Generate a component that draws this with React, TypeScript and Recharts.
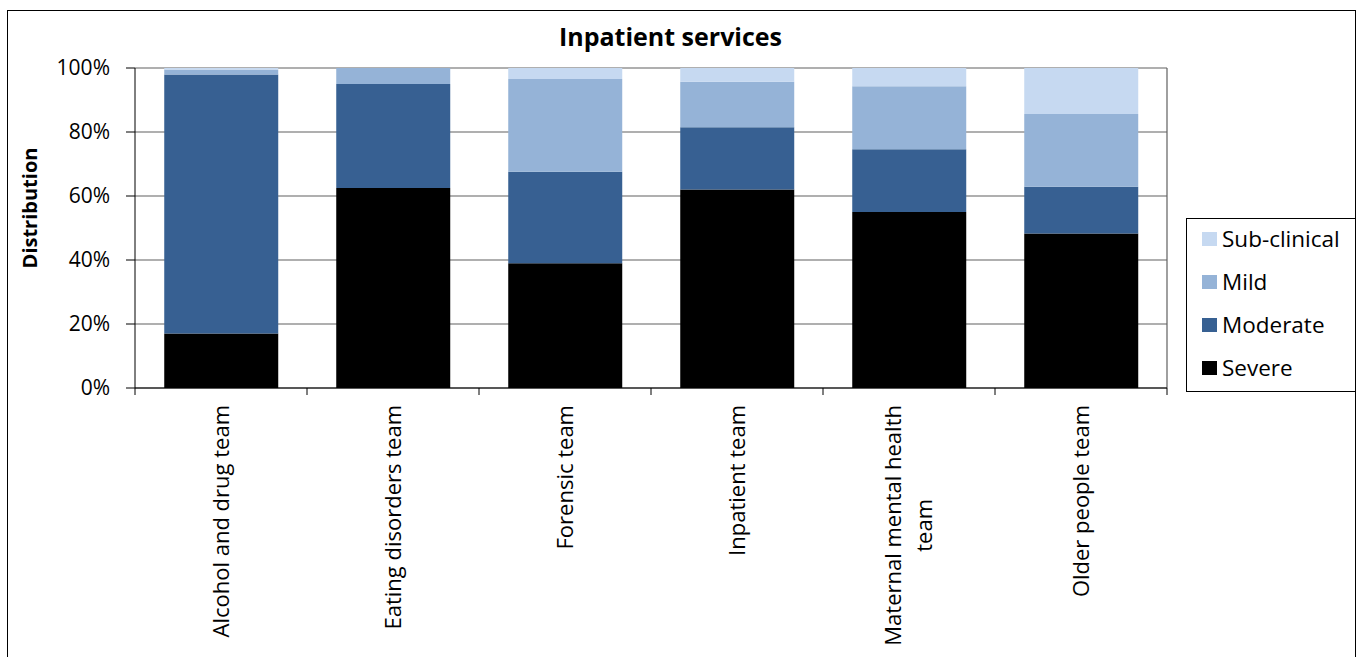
import React from 'react';
import { BarChart, Bar, XAxis, YAxis, CartesianGrid, Legend, Label } from 'recharts';

// ---- data ----
const categories = [
  'Alcohol and drug team',
  'Eating disorders team',
  'Forensic team',
  'Inpatient team',
  'Maternal mental health team',
  'Older people team',
];
const severe = [17, 62.5, 39, 62, 55, 48.3];
const moderate = [81, 32.5, 28.6, 19.5, 19.6, 14.6];
const mild = [1.5, 5, 29, 14.2, 19.7, 22.7];
const subClinical = [0.5, 0, 3.4, 4.3, 5.7, 14.4];
const yTicks = [0, 20, 40, 60, 80, 100];

const seriesDefs = [
  { key: 'severe', name: 'Severe', values: severe, color: '#000000' },
  { key: 'moderate', name: 'Moderate', values: moderate, color: '#376092' },
  { key: 'mild', name: 'Mild', values: mild, color: '#95B3D7' },
  { key: 'subClinical', name: 'Sub-clinical', values: subClinical, color: '#C6D9F1' },
];

const data = categories.map((c, i) => {
  const row: any = { name: c };
  seriesDefs.forEach((s) => (row[s.key] = s.values[i]));
  return row;
});

// ---- layout ----
const W = 1361;
const H = 657;
const FONT = "'Open Sans', 'Liberation Sans', sans-serif";
const LABEL_SIZE = 22;
const LINE_H = 31;
const MAX_LABEL = 262;

let ctx: CanvasRenderingContext2D | null = null;
const measure = (s: string) => {
  if (!ctx) {
    const c = document.createElement('canvas');
    ctx = c.getContext('2d');
  }
  if (!ctx) return s.length * LABEL_SIZE * 0.5;
  ctx.font = `${LABEL_SIZE}px 'Open Sans'`;
  return ctx.measureText(s).width;
};

const wrap = (s: string) => {
  const words = s.split(' ');
  const lines: string[] = [];
  let cur = '';
  words.forEach((w) => {
    const t = cur ? cur + ' ' + w : w;
    if (cur && measure(t) > MAX_LABEL) {
      lines.push(cur);
      cur = w;
    } else cur = t;
  });
  if (cur) lines.push(cur);
  return lines;
};

const XTick = (props: any) => {
  const { x, y, payload, index, width } = props;
  const band = (width || 1032) / categories.length;
  const lines = wrap(String(payload.value));
  const lens = lines.map(measure);
  const maxLen = Math.max(...lens);
  const top = y + 17;
  return (
    <g>
      <line x1={x - band / 2} x2={x - band / 2} y1={y} y2={y + 7} stroke="#000" strokeWidth={1} />
      {index === categories.length - 1 && (
        <line x1={x + band / 2} x2={x + band / 2} y1={y} y2={y + 7} stroke="#000" strokeWidth={1} />
      )}
      {lines.map((ln, i) => {
        const cx = x + (i - (lines.length - 1) / 2) * LINE_H;
        const ty = top + (maxLen - lens[i]) / 2;
        return (
          <text
            key={i}
            x={cx}
            y={ty}
            transform={`rotate(-90 ${cx} ${ty})`}
            textAnchor="end"
            dy="0.36em"
            fontSize={LABEL_SIZE}
            fontFamily={FONT}
            fill="#000"
          >
            {ln}
          </text>
        );
      })}
    </g>
  );
};

const renderLegend = () => (
  <div
    style={{
      border: '1px solid #000',
      width: 170,
      height: 174,
      boxSizing: 'border-box',
      background: '#fff',
      fontFamily: FONT,
      fontSize: 22.5,
      color: '#000',
    }}
  >
    <div style={{ marginTop: -2 }}>
      {[...seriesDefs].reverse().map((s) => (
        <div key={s.key} style={{ height: 43, display: 'flex', alignItems: 'center' }}>
          <span
            style={{
              display: 'inline-block',
              width: 15,
              height: 14,
              background: s.color,
              marginLeft: 15,
              marginRight: 5,
            }}
          />
          <span style={{ lineHeight: '22px' }}>{s.name}</span>
        </div>
      ))}
    </div>
  </div>
);

export default function App() {
  return (
    <div
      style={{
        position: 'absolute',
        left: 0,
        top: 0,
        width: W,
        height: H,
        overflow: 'hidden',
        background: '#fff',
      }}
    >
      <div
        style={{
          position: 'absolute',
          left: 7,
          top: 10,
          width: 1349,
          height: 700,
          border: '1.5px solid #000',
          boxSizing: 'border-box',
        }}
      />
      <div
        style={{
          position: 'absolute',
          left: 0,
          top: 24,
          width: 1341,
          textAlign: 'center',
          fontFamily: FONT,
          fontWeight: 700,
          fontSize: 25,
          lineHeight: '25px',
          color: '#000',
        }}
      >
        Inpatient services
      </div>
      <div style={{ position: 'absolute', left: 0, top: 0 }}>
        <BarChart
          width={W}
          height={H}
          data={data}
          margin={{ top: 68, right: 24, left: 0, bottom: 0 }}
          barCategoryGap="17%"
        >
          <CartesianGrid
            horizontal={true}
            vertical={true}
            stroke="#606060"
            strokeWidth={1.2}
            verticalCoordinatesGenerator={({ offset }: any) => [offset.left + offset.width]}
          />
          <XAxis
            dataKey="name"
            interval={0}
            height={269}
            tickSize={0}
            tickMargin={0}
            tickLine={false}
            axisLine={{ stroke: '#000', strokeWidth: 1 }}
            tick={<XTick />}
          />
          <YAxis
            width={135}
            domain={[0, 100]}
            ticks={yTicks}
            tickFormatter={(v: number) => `${v}%`}
            tickSize={9}
            tickMargin={16}
            axisLine={{ stroke: '#000', strokeWidth: 1 }}
            tickLine={{ stroke: '#000', strokeWidth: 1 }}
            tick={{ fontSize: 21, fontFamily: FONT, fill: '#000' }}
            allowDataOverflow
          >
            <Label
              content={(p: any) => {
                const vb = p.viewBox || { x: 0, y: 68, width: 135, height: 320 };
                const cx = vb.x + 30;
                const cy = vb.y + vb.height / 2 - 20;
                return (
                  <text
                    x={cx}
                    y={cy}
                    transform={`rotate(-90 ${cx} ${cy})`}
                    textAnchor="middle"
                    dy="0.36em"
                    fontSize={20}
                    fontWeight={700}
                    fontFamily={FONT}
                    fill="#000"
                  >
                    Distribution
                  </text>
                );
              }}
            />
          </YAxis>
          <Legend
            layout="vertical"
            align="right"
            verticalAlign="top"
            content={renderLegend}
            wrapperStyle={{ left: 1186, top: 218, width: 170, height: 174 }}
          />
          {seriesDefs.map((s) => (
            <Bar
              key={s.key}
              dataKey={s.key}
              name={s.name}
              stackId="a"
              fill={s.color}
              isAnimationActive={false}
            />
          ))}
        </BarChart>
      </div>
    </div>
  );
}
